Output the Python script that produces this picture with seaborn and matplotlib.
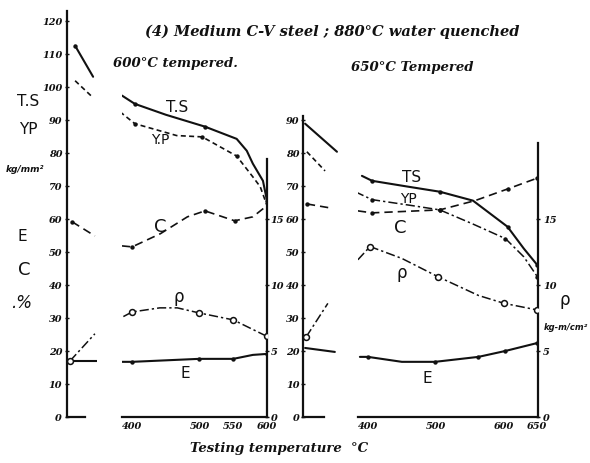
import matplotlib
matplotlib.use("Agg")
import matplotlib.pyplot as plt
import seaborn as sns
import pandas as pd

sns.set_style("white")
plt.rcParams['font.family'] = ['DejaVu Sans']

# ---------------- data ----------------
# 600°C tempered, testing temperature (°C)
t600_ts_x = [385, 404, 450, 508, 555, 570, 579, 594, 600]
t600_ts_y = [97.3, 94.8, 91.5, 87.9, 84.2, 80.6, 76.7, 71.5, 65.5]
t600_ts_mx = [404, 508, 600]
t600_ts_my = [94.8, 87.9, 65.5]
t600_yp_x = [382, 404, 466, 504, 555, 579, 590, 600]
t600_yp_y = [92.4, 88.8, 85.2, 84.8, 79.0, 72.7, 69.7, 64.0]
t600_yp_mx = [404, 504, 555]
t600_yp_my = [88.8, 84.8, 79.0]
t600_c_x = [385, 400, 442, 482, 508, 530, 552, 579, 600]
t600_c_y = [51.8, 51.5, 55.5, 60.6, 62.4, 60.9, 59.4, 60.6, 64.0]
t600_c_mx = [400, 508, 552]
t600_c_my = [51.5, 62.4, 59.4]
t600_rho_x = [387, 400, 441, 467, 499, 550, 600]
t600_rho_y = [7.6, 7.95, 8.26, 8.26, 7.88, 7.35, 6.1]
t600_rho_mx = [400, 499, 550, 600]
t600_rho_my = [7.95, 7.88, 7.35, 6.1]
t600_e_x = [385, 400, 499, 550, 579, 600]
t600_e_y = [16.7, 16.7, 17.6, 17.6, 18.8, 19.1]
t600_e_mx = [400, 499, 550, 600]
t600_e_my = [16.7, 17.6, 17.6, 19.1]

# 650°C tempered
t650_ts_x = [391, 406, 460, 506, 555, 606, 630, 650]
t650_ts_y = [73.0, 71.5, 69.7, 68.2, 65.5, 57.6, 51.0, 46.0]
t650_ts_mx = [406, 506, 606, 650]
t650_ts_my = [71.5, 68.2, 57.6, 46.0]
t650_yp_x = [381, 406, 465, 506, 554, 603, 630, 650]
t650_yp_y = [68.2, 65.8, 64.0, 62.7, 58.5, 54.0, 48.5, 42.5]
t650_yp_mx = [406, 506, 603, 650]
t650_yp_my = [65.8, 62.7, 54.0, 42.5]
t650_c_x = [385, 406, 506, 558, 607, 651]
t650_c_y = [62.4, 61.8, 62.7, 65.5, 69.1, 72.4]
t650_c_mx = [406, 506, 607, 650]
t650_c_my = [61.8, 62.7, 69.1, 72.4]
t650_rho_x = [385, 403, 450, 504, 563, 601, 650]
t650_rho_y = [11.9, 12.9, 12.0, 10.6, 9.2, 8.6, 8.1]
t650_rho_mx = [403, 504, 601, 650]
t650_rho_my = [12.9, 10.6, 8.6, 8.1]
t650_e_x = [388, 400, 450, 499, 563, 603, 650]
t650_e_y = [18.2, 18.2, 16.7, 16.7, 18.2, 20.0, 22.4]
t650_e_mx = [400, 499, 563, 603, 650]
t650_e_my = [18.2, 16.7, 18.2, 20.0, 22.4]

# room-temperature stubs (x = position within the short stub panel)
rt600_ts = ([0.27, 0.87], [112.4, 103.0])
rt600_yp = ([0.27, 0.83], [101.8, 97.0])
rt600_c = ([0.17, 0.93], [59.1, 54.8])
rt600_rho = ([0.10, 0.93], [4.24, 6.3])
rt600_e = ([0.10, 1.00], [17.0, 17.0])
rt650_ts = ([0.06, 0.97], [88.8, 80.3])
rt650_yp = ([0.11, 0.63], [80.3, 74.5])
rt650_c = ([0.11, 0.77], [64.5, 63.3])
rt650_rho = ([0.09, 0.71], [6.06, 8.6])
rt650_e = ([0.06, 0.91], [20.9, 19.7])

left_ticks = [0, 10, 20, 30, 40, 50, 60, 70, 80, 90, 100, 110, 120]
right_ticks = [0, 5, 10, 15]
x600_ticks = [400, 500, 550, 600]
x650_ticks = [400, 500, 600, 650]

# ---------------- figure ----------------
W, H = 590, 464
fig = plt.figure(figsize=(W / 100, H / 100), dpi=100)
fig.patch.set_facecolor("white")
Y0, YTOP = 418, 15
YMAX = 122
INK = "#111111"
num_font = dict(family="DejaVu Serif", style="italic", weight="bold", size=7)


def add_ax(x0, x1):
    ax = fig.add_axes([x0 / W, (H - Y0) / H, (x1 - x0) / W, (Y0 - YTOP) / H])
    ax.set_facecolor("none")
    ax.set_ylim(0, YMAX)
    for s in ax.spines.values():
        s.set_visible(False)
        s.set_color(INK)
        s.set_linewidth(1.6)
    axr = ax.twinx()
    axr.set_ylim(0, YMAX / 4)
    for s in axr.spines.values():
        s.set_visible(False)
        s.set_color(INK)
        s.set_linewidth(1.6)
    ax.set_xticks([]); ax.set_yticks([]); axr.set_yticks([])
    return ax, axr


STY = {
    "ts": dict(linestyle="-", lw=1.5),
    "yp": dict(linestyle=(0, (3, 2)), lw=1.2),
    "c": dict(linestyle=(0, (5, 3)), lw=1.2),
    "rho": dict(linestyle=(0, (6, 2, 1.5, 2)), lw=1.1),
    "e": dict(linestyle="-", lw=1.5),
}


def curve(ax, x, y, kind):
    sns.lineplot(x=x, y=y, ax=ax, color=INK, sort=False, estimator=None, **STY[kind])


def marks(ax, x, y, kind):
    if kind == "rho":
        sns.scatterplot(x=x, y=y, ax=ax, s=18, marker="o", facecolor="white",
                        edgecolor=INK, linewidth=1.1, zorder=5)
    else:
        sns.scatterplot(x=x, y=y, ax=ax, s=10, marker="o", color=INK,
                        edgecolor=INK, linewidth=0, zorder=5)


# panel 1 : room temperature (600 series)
ax1, ax1r = add_ax(67, 97)
ax1.set_xlim(0, 1)
ax1r.set_xlim(0, 1)
for kind, (xx, yy) in [("ts", rt600_ts), ("yp", rt600_yp), ("c", rt600_c), ("e", rt600_e)]:
    curve(ax1, xx, yy, kind)
curve(ax1r, rt600_rho[0], rt600_rho[1], "rho")
marks(ax1, [rt600_ts[0][0]], [rt600_ts[1][0]], "ts")
marks(ax1, [rt600_c[0][0]], [rt600_c[1][0]], "c")
marks(ax1r, [rt600_rho[0][0]], [rt600_rho[1][0]], "rho")
ax1.spines["left"].set_visible(True)
ax1.spines["left"].set_bounds(0, 123)
ax1.spines["bottom"].set_visible(True)
ax1.spines["bottom"].set_bounds(0, 0.6)
ax1.set_yticks(left_ticks)
ax1.set_yticklabels([str(v) for v in left_ticks], fontdict=num_font)
ax1.tick_params(axis="y", length=3, width=1, direction="inout", pad=2, colors=INK)

# panel 2 : 600°C tempered
ax2, ax2r = add_ax(122, 267)
ax2.set_xlim(385, 600)
ax2r.set_xlim(385, 600)
curve(ax2, t600_ts_x, t600_ts_y, "ts"); marks(ax2, t600_ts_mx, t600_ts_my, "ts")
curve(ax2, t600_yp_x, t600_yp_y, "yp"); marks(ax2, t600_yp_mx, t600_yp_my, "yp")
curve(ax2, t600_c_x, t600_c_y, "c"); marks(ax2, t600_c_mx, t600_c_my, "c")
curve(ax2, t600_e_x, t600_e_y, "e"); marks(ax2, t600_e_mx, t600_e_my, "e")
curve(ax2r, t600_rho_x, t600_rho_y, "rho"); marks(ax2r, t600_rho_mx, t600_rho_my, "rho")
ax2.spines["bottom"].set_visible(True)
ax2.set_xticks(x600_ticks)
ax2.set_xticklabels([str(v) for v in x600_ticks], fontdict=num_font)
ax2.tick_params(axis="x", length=2, width=1, direction="in", pad=3, colors=INK)
ax2r.spines["right"].set_visible(True)
ax2r.spines["right"].set_bounds(0, 19.5)
ax2r.set_yticks(right_ticks)
ax2r.set_yticklabels([str(v) for v in right_ticks], fontdict=num_font)
ax2r.tick_params(axis="y", length=3, width=1, direction="inout", pad=1, colors=INK)

# panel 3 : room temperature (650 series)
ax3, ax3r = add_ax(303, 338)
ax3.set_xlim(0, 1)
ax3r.set_xlim(0, 1)
for kind, (xx, yy) in [("ts", rt650_ts), ("yp", rt650_yp), ("c", rt650_c), ("e", rt650_e)]:
    curve(ax3, xx, yy, kind)
curve(ax3r, rt650_rho[0], rt650_rho[1], "rho")
marks(ax3, [rt650_c[0][0]], [rt650_c[1][0]], "c")
marks(ax3r, [rt650_rho[0][0]], [rt650_rho[1][0]], "rho")
ax3.spines["left"].set_visible(True)
ax3.spines["left"].set_bounds(0, 91)
ax3.spines["bottom"].set_visible(True)
ax3.spines["bottom"].set_bounds(0, 0.6)
ax3.set_yticks(left_ticks[:10])
ax3.set_yticklabels([str(v) for v in left_ticks[:10]], fontdict=num_font)
ax3.tick_params(axis="y", length=3, width=1, direction="inout", pad=1, colors=INK)

# panel 4 : 650°C tempered
ax4, ax4r = add_ax(358, 538)
ax4.set_xlim(385.2, 651)
ax4r.set_xlim(385.2, 651)
curve(ax4, t650_ts_x, t650_ts_y, "ts"); marks(ax4, t650_ts_mx, t650_ts_my, "ts")
curve(ax4, t650_yp_x, t650_yp_y, "rho"); marks(ax4, t650_yp_mx, t650_yp_my, "yp")
curve(ax4, t650_c_x, t650_c_y, "c"); marks(ax4, t650_c_mx, t650_c_my, "c")
curve(ax4, t650_e_x, t650_e_y, "e"); marks(ax4, t650_e_mx, t650_e_my, "e")
curve(ax4r, t650_rho_x, t650_rho_y, "rho"); marks(ax4r, t650_rho_mx, t650_rho_my, "rho")
ax4.spines["bottom"].set_visible(True)
ax4.set_xticks(x650_ticks)
ax4.set_xticklabels([str(v) for v in x650_ticks], fontdict=num_font)
ax4.tick_params(axis="x", length=2, width=1, direction="in", pad=3, colors=INK)
ax4r.spines["right"].set_visible(True)
ax4r.spines["right"].set_bounds(0, 20.7)
ax4r.set_yticks(right_ticks)
ax4r.set_yticklabels([str(v) for v in right_ticks], fontdict=num_font)
ax4r.tick_params(axis="y", length=3, width=1, direction="inout", pad=2, colors=INK)

for a in (ax1, ax1r, ax2, ax2r, ax3, ax3r, ax4, ax4r):
    a.set_xlabel(""); a.set_ylabel("")


def ftext(x, y, s, **kw):
    base = dict(ha="center", va="center", color=INK)
    base.update(kw)
    fig.text(x / W, 1 - y / H, s, **base)


hand = dict(family="DejaVu Serif", style="italic", weight="bold")
ftext(332, 32, "(4) Medium C-V steel ; 880°C water quenched", fontsize=10.5, **hand)
ftext(175, 63, "600°C tempered.", fontsize=9.5, **hand)
ftext(412, 68, "650°C Tempered", fontsize=9.5, **hand)
ftext(279, 449, "Testing temperature  °C", fontsize=9.5, **hand)

lab = dict(fontsize=11)
ftext(28, 101, "T.S", **lab)
ftext(28, 130, "YP", **lab)
ftext(25, 170, "kg/mm²", fontsize=6.5, weight="bold", style="italic")
ftext(22, 237, "E", **lab)
ftext(24, 270, "C", fontsize=13)
ftext(22, 303, ".%", fontsize=12, style="italic")

ftext(177, 107, "T.S", fontsize=11)
ftext(160, 140, "Y.P", fontsize=10)
ftext(160, 227, "C", fontsize=13)
ftext(179, 297, "ρ", fontsize=12)
ftext(185, 374, "E", fontsize=11)

ftext(412, 178, "TS", fontsize=11)
ftext(408, 199, "YP", fontsize=10)
ftext(400, 228, "C", fontsize=13)
ftext(402, 273, "ρ", fontsize=12)
ftext(427, 379, "E", fontsize=11)

ftext(565, 300, "ρ", fontsize=12)
ftext(566, 327, "kg-m/cm²", fontsize=6, weight="bold", style="italic")

fig.savefig("out.png", dpi=100, facecolor="white")
